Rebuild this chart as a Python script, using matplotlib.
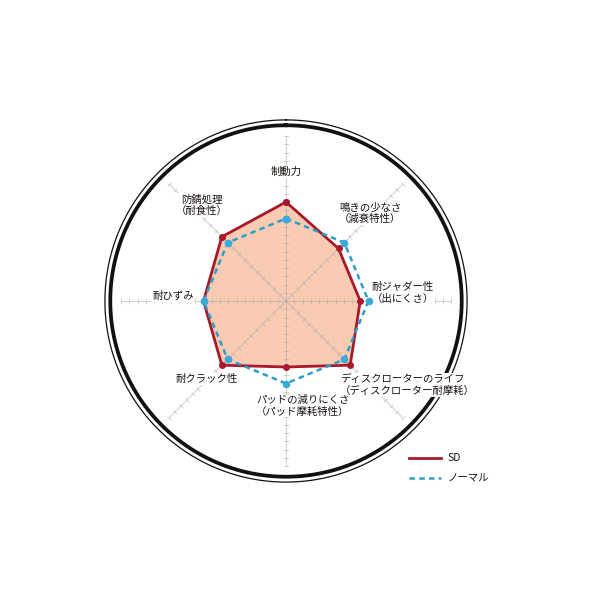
import numpy as np
import matplotlib.pyplot as plt
from matplotlib.lines import Line2D
from matplotlib.markers import MarkerStyle
from matplotlib.transforms import Affine2D

plt.rcParams['font.family'] = ['Noto Sans CJK JP', 'DejaVu Sans']
plt.rcParams['lines.scale_dashes'] = False

# axes, clockwise from the top
categories = ['制動力', '鳴きの少なさ\n（減衰特性）', '耐ジャダー性\n（出にくさ）',
              'ディスクローターのライフ\n（ディスクローター耐摩耗）',
              'パッドの減りにくさ\n（パッド摩耗特性）', '耐クラック性', '耐ひずみ',
              '防錆処理\n（耐食性）']
sd_values = [12, 9, 9, 11, 8, 11, 10, 11]
normal_values = [10, 10, 10, 10, 10, 10, 10, 10]
series_names = ['SD', 'ノーマル']
scale_max = 20

# label placement in pixels (x, y from top) with alignment
label_pos = [(286, 172, 'center'), (339, 213, 'left'), (372, 293, 'left'),
             (340, 385, 'left'), (256, 406, 'left'), (207, 379, 'center'),
             (173, 296, 'center'), (202, 205, 'center')]

TEXT = '#1a1311'
RED = '#a8192c'
FILL = '#f8cbb2'
BLUE = '#2b9fca'
GRID = '#a8a8a8'

fig = plt.figure(figsize=(6, 6), dpi=100)
unit = 8.25  # pixels per scale step
rmax = 22.3
size = 2 * rmax * unit
cx, cy = 286, 301
ax = fig.add_axes([(cx - size / 2) / 600, (600 - cy - size / 2) / 600, size / 600, size / 600],
                  projection='polar')
ax.set_theta_zero_location('N')
ax.set_theta_direction(-1)
ax.set_ylim(0, rmax)
ax.set_xticks([])
ax.set_yticks([])
ax.grid(False)
ax.spines['polar'].set_visible(False)
ax.patch.set_alpha(0)

n = len(categories)
angles = np.arange(n) * 2 * np.pi / n

# filled SD polygon underneath everything
ang_c = np.append(angles, angles[0])
sd_c = np.append(sd_values, sd_values[0])
nm_c = np.append(normal_values, normal_values[0])
ax.fill(ang_c, sd_c, color=FILL, zorder=1, lw=0)

# spokes with cross ticks
steps = np.arange(1, scale_max + 1)
for a in angles:
    ax.plot([a, a], [0, scale_max], color=GRID, lw=0.8, alpha=0.5, zorder=2)
    m = MarkerStyle('_', transform=Affine2D().rotate_deg(-np.degrees(a)))
    ax.plot(np.full(len(steps), a), steps, ls='none', marker=m, ms=4.5,
            mec=GRID, mew=0.7, alpha=0.45, zorder=2)

# outer double ring
ring = np.linspace(0, 2 * np.pi, 400)
ax.plot(ring, np.full(len(ring), 21.3), color='#111111', lw=2.7, zorder=3)
ax.plot(ring, np.full(len(ring), 21.95), color='#111111', lw=0.9, zorder=3)

ax.plot(ang_c, sd_c, color=RED, lw=2.0, marker='o', ms=4, zorder=4)
ax.plot(ang_c, nm_c, color=BLUE, lw=1.8, ls=(0, (4, 3)), marker='o', ms=4.5,
        mfc='#3aaad8', mec='#3aaad8', zorder=5)

# labels knock out the spokes but stay under the data lines
for text, (x, y, ha) in zip(categories, label_pos):
    ax.text(x / 600, 1 - y / 600, text, transform=fig.transFigure, ha=ha, va='center',
            multialignment=ha, fontsize=7.5, color=TEXT, linespacing=1.15, zorder=3.5,
            bbox=dict(facecolor='white', edgecolor='none', pad=0.6))

handles = [Line2D([], [], color=RED, lw=2.0),
           Line2D([], [], color=BLUE, lw=1.8, ls=(0, (4, 3)))]
fig.legend(handles, series_names, loc='upper left', bbox_to_anchor=(400 / 600, 1 - 444 / 600),
           frameon=False, fontsize=7.5, handlelength=3.0, handletextpad=0.7,
           labelspacing=1.0, labelcolor=TEXT)

fig.savefig('out.png', dpi=100)
